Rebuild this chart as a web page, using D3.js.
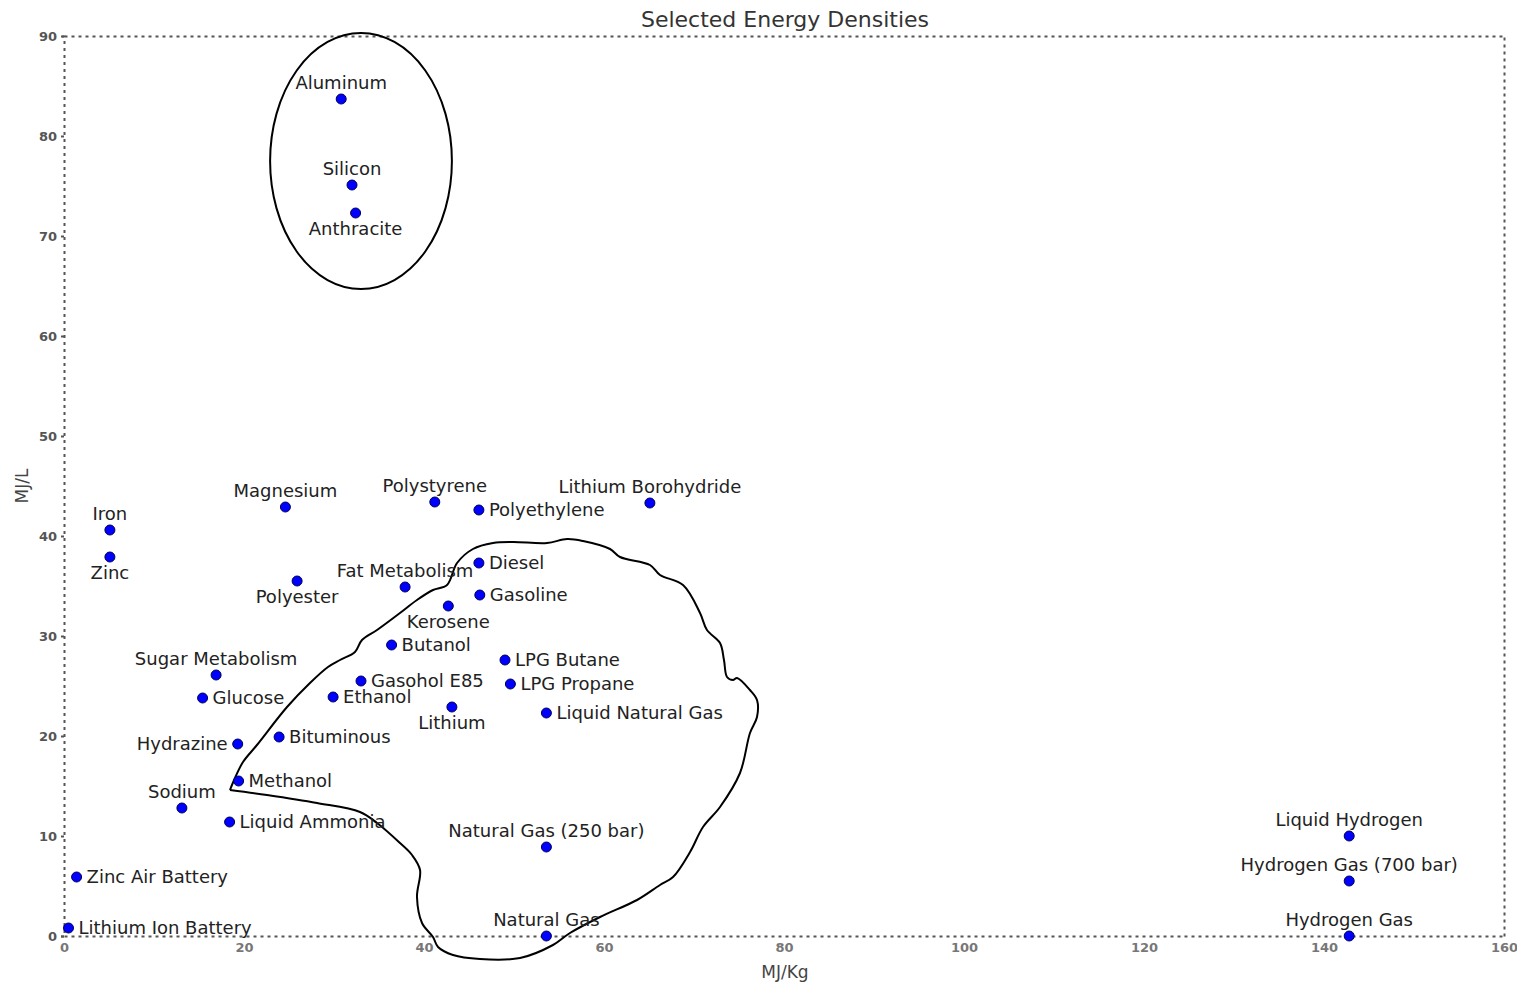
<!DOCTYPE html>
<html>
<head>
<meta charset="utf-8">
<script src="https://cdn.jsdelivr.net/npm/d3@7"></script>
<style>
  html, body { margin: 0; padding: 0; background: #fff; }
  svg { display: block; font-family: "DejaVu Sans", sans-serif; }
</style>
</head>
<body>
<svg id="chart" width="1517" height="983"></svg>
<script>
// ---------- data ----------
const names = [
  "Aluminum", "Silicon", "Anthracite", "Iron", "Zinc", "Magnesium", "Polystyrene",
  "Polyethylene", "Lithium Borohydride", "Diesel", "Gasoline", "Fat Metabolism",
  "Kerosene", "Polyester", "Butanol", "LPG Butane", "LPG Propane", "Gasohol E85",
  "Ethanol", "Lithium", "Liquid Natural Gas", "Sugar Metabolism", "Glucose",
  "Hydrazine", "Bituminous", "Methanol", "Sodium", "Liquid Ammonia",
  "Natural Gas (250 bar)", "Zinc Air Battery", "Lithium Ion Battery", "Natural Gas",
  "Liquid Hydrogen", "Hydrogen Gas (700 bar)", "Hydrogen Gas"
];
const mjPerKg = [
  30.8, 32.0, 32.4, 5.1, 5.1, 24.6, 41.2,
  46.1, 65.1, 46.1, 46.2, 37.9,
  42.7, 25.9, 36.4, 49.0, 49.6, 33.0,
  29.9, 43.1, 53.6, 16.9, 15.4,
  19.3, 23.9, 19.4, 13.1, 18.4,
  53.6, 1.4, 0.5, 53.6,
  142.8, 142.8, 142.8
];
const mjPerL = [
  83.7, 75.1, 72.3, 40.6, 37.9, 42.9, 43.4,
  42.6, 43.3, 37.3, 34.1, 34.9,
  33.0, 35.5, 29.1, 27.6, 25.2, 25.5,
  23.9, 22.9, 22.3, 26.1, 23.8,
  19.2, 19.9, 15.5, 12.8, 11.4,
  8.9, 5.9, 0.8, 0.0,
  10.0, 5.5, 0.0
];
// label side relative to the point
const labelSide = [
  "top", "top", "bottom", "top", "bottom", "top", "top",
  "right", "top", "right", "right", "top",
  "bottom", "bottom", "right", "right", "right", "right",
  "right", "bottom", "right", "top", "right",
  "left", "right", "right", "top", "right",
  "top", "right", "right", "top",
  "top", "top", "top"
];
const xTicks = [0, 20, 40, 60, 80, 100, 120, 140, 160];
const yTicks = [0, 10, 20, 30, 40, 50, 60, 70, 80, 90];

// hand-drawn outline around the liquid-fuel cluster (MJ/kg, MJ/L)
const blobX = [18.44, 19.0, 19.89, 21.44, 24.78, 27.33, 29.33, 30.67, 32.33, 33.11, 34.78, 37.33,
  39.22, 41.0, 42.56, 43.67, 45.44, 47.67, 49.89, 53.67, 55.89, 57.67, 60.67, 61.78, 65.11,
  66.22, 68.78, 70.67, 71.44, 72.89, 73.33, 73.67, 74.33, 74.78, 76.22, 77.0, 77.0, 76.22,
  75.11, 72.89, 71.0, 69.56, 67.67, 66.22, 63.67, 59.56, 56.22, 54.33, 50.67, 46.22, 43.22,
  41.56, 41.0, 39.78, 39.22, 39.56, 38.67, 37.33, 34.78, 32.89, 28.11, 22.56, 18.44];
const blobY = [14.6, 15.8, 17.4, 19.1, 22.9, 25.3, 26.9, 27.6, 28.4, 29.6, 30.6, 32.3,
  33.6, 34.6, 35.1, 37.3, 38.7, 39.3, 39.4, 39.3, 39.7, 39.5, 38.7, 37.9, 37.1,
  36.1, 35.1, 32.3, 30.6, 29.3, 27.6, 25.9, 25.6, 25.8, 24.6, 23.6, 21.9, 20.3,
  16.3, 12.9, 10.9, 8.4, 5.9, 5.1, 3.6, 1.9, 0.3, -0.9, -2.2, -2.3, -1.9,
  -1.1, -0.1, 1.3, 3.9, 6.6, 8.1, 9.3, 11.3, 12.4, 13.3, 14.1, 14.6];
// ellipse around the metals/anthracite cluster: centre and radii in data units
const ellipseCenter = [33.0, 77.5];
const ellipseRadii = [10.1, 12.8];

// ---------- layout ----------
const svg = d3.select("#chart");
const margin = { left: 64, right: 1517 - 1504, top: 36, bottom: 983 - 936 };
const W = 1517, H = 983;
const x = d3.scaleLinear().domain([0, 160]).range([margin.left, W - margin.right]);
const y = d3.scaleLinear().domain([0, 90]).range([H - margin.bottom, margin.top]);

// frame (dotted)
const frameStyle = g => g.select(".domain")
  .attr("stroke", "#555").attr("stroke-width", 2).attr("stroke-dasharray", "3,4");

svg.append("g").attr("transform", `translate(0,${y(0)})`)
  .call(d3.axisBottom(x).tickValues(xTicks).tickSize(0).tickPadding(7).tickFormat(d3.format("d")))
  .call(frameStyle)
  .call(g => g.selectAll("text").attr("fill", "#777").attr("font-size", 13)
    .attr("font-weight", "bold").attr("font-family", "DejaVu Sans"));

svg.append("g").attr("transform", `translate(${x(0)},0)`)
  .call(d3.axisLeft(y).tickValues(yTicks).tickSize(3).tickPadding(4).tickFormat(d3.format("d")))
  .call(frameStyle)
  .call(g => g.selectAll(".tick line").attr("stroke", "#555").attr("stroke-width", 2))
  .call(g => g.selectAll("text").attr("fill", "#555").attr("font-size", 13)
    .attr("font-weight", "bold").attr("font-family", "DejaVu Sans"));

svg.append("g").attr("transform", `translate(0,${y(90)})`)
  .call(d3.axisTop(x).tickValues([]).tickSizeOuter(0))
  .call(frameStyle);

svg.append("g").attr("transform", `translate(${x(160)},0)`)
  .call(d3.axisRight(y).tickValues([]).tickSizeOuter(0))
  .call(frameStyle);

// title & axis titles
svg.append("text").attr("x", (x(0) + x(160)) / 2 + 1).attr("y", 27)
  .attr("text-anchor", "middle").attr("font-size", 22).attr("fill", "#333")
  .text("Selected Energy Densities");
svg.append("text").attr("x", (x(0) + x(160)) / 2 + 1).attr("y", 978)
  .attr("text-anchor", "middle").attr("font-size", 17).attr("fill", "#444")
  .text("MJ/Kg");
svg.append("text").attr("transform", `translate(28,${(y(0) + y(90)) / 2}) rotate(-90)`)
  .attr("text-anchor", "middle").attr("font-size", 17).attr("fill", "#444")
  .text("MJ/L");

// outlines
svg.append("ellipse")
  .attr("cx", x(ellipseCenter[0])).attr("cy", y(ellipseCenter[1]))
  .attr("rx", x(ellipseRadii[0]) - x(0)).attr("ry", y(0) - y(ellipseRadii[1]))
  .attr("fill", "none").attr("stroke", "#000").attr("stroke-width", 2);

const blob = d3.line().x(d => x(d[0])).y(d => y(d[1])).curve(d3.curveCatmullRom.alpha(0.5));
svg.append("path").datum(blobX.map((v, i) => [v, blobY[i]]))
  .attr("d", blob).attr("fill", "none").attr("stroke", "#000").attr("stroke-width", 2);

// points
const pts = names.map((n, i) => ({ name: n, xv: mjPerKg[i], yv: mjPerL[i], side: labelSide[i] }));

svg.append("g").selectAll("circle").data(pts).join("circle")
  .attr("cx", d => x(d.xv)).attr("cy", d => y(d.yv)).attr("r", 5)
  .attr("fill", "#0000ff").attr("stroke", "#000055").attr("stroke-width", 1);

const off = 16;
svg.append("g").selectAll("text").data(pts).join("text")
  .attr("x", d => x(d.xv) + (d.side === "right" ? 10 : d.side === "left" ? -10 : 0))
  .attr("y", d => y(d.yv) + (d.side === "top" ? -off : d.side === "bottom" ? off : 0))
  .attr("dy", "0.35em")
  .attr("text-anchor", d => d.side === "right" ? "start" : d.side === "left" ? "end" : "middle")
  .attr("font-size", 18).attr("fill", "#222")
  .text(d => d.name);
</script>
</body>
</html>
